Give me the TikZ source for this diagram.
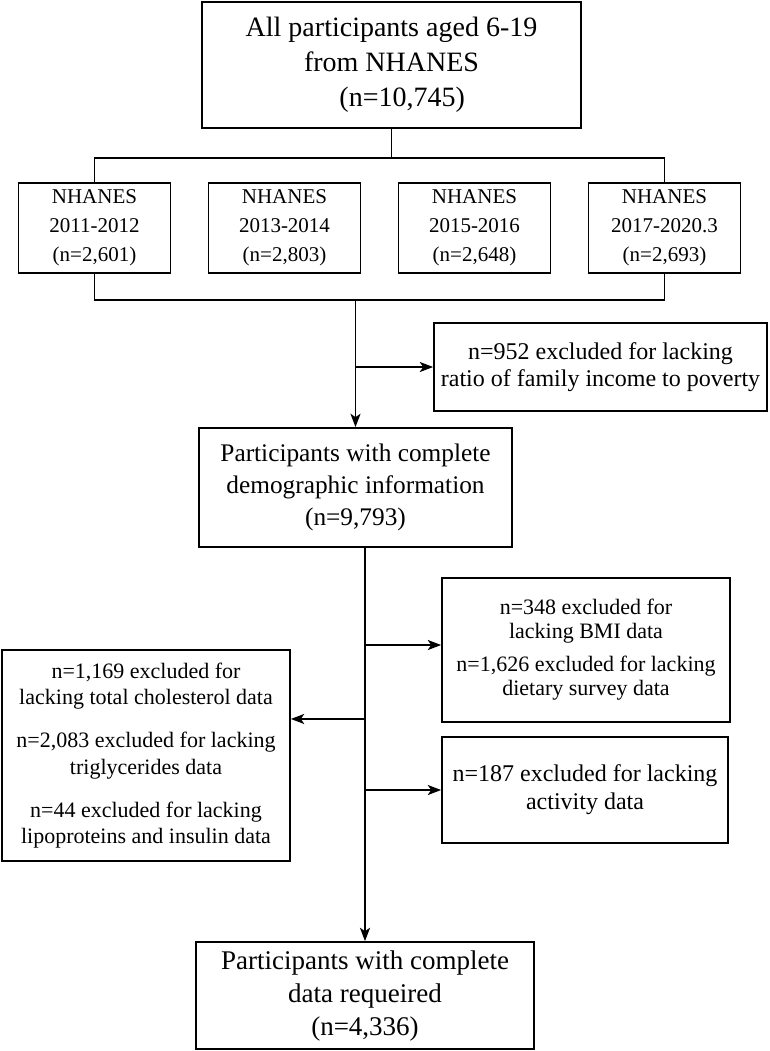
\documentclass[tikz,border=0pt]{standalone}
\usepackage{fontspec}
\setmainfont{Liberation Serif}
\usetikzlibrary{arrows.meta}

\begin{document}
\begin{tikzpicture}[x=0.75pt,y=-0.75pt,
              line width=1.3pt,
              box/.style={draw, rectangle, inner sep=0pt, align=center},
              boxsize/.style 2 args={minimum width=#1*0.75pt, minimum height=#2*0.75pt},
              title text/.style={font=\fontsize{21}{26.25}\selectfont},
              main text/.style={font=\fontsize{19}{24}\selectfont},
              end text/.style={font=\fontsize{20.25}{24.75}\selectfont},
              cycle text/.style={font=\fontsize{15.75}{21.75}\selectfont},
              excl text/.style={font=\fontsize{18}{20.5}\selectfont},
              small text/.style={font=\fontsize{16.5}{18}\selectfont},
              arrow/.style={-{Stealth[length=10pt,width=7.5pt,inset=2.5pt]}}
            ]
              \useasboundingbox (0,0) rectangle (770,1051);

              % source population
              \node[box, title text, boxsize={379}{126}] (all) at (391.5,65)
                {All participants aged 6-19\\from NHANES\\\hspace*{16pt}(n=10,745)};

              % survey cycles
              \node[box, cycle text, boxsize={152}{90}] (cyc1) at (94.5,228) {NHANES\\2011-2012\\(n=2,601)};
              \node[box, cycle text, boxsize={152}{90}] (cyc2) at (284.5,228) {NHANES\\2013-2014\\(n=2,803)};
              \node[box, cycle text, boxsize={152}{90}] (cyc3) at (474.5,228) {NHANES\\2015-2016\\(n=2,648)};
              \node[box, cycle text, boxsize={152}{90}] (cyc4) at (664.5,228) {NHANES\\2017-2020.3\\(n=2,693)};

              \node[box, excl text, boxsize={333}{88}] (excl1) at (600.5,367)
                {n=952 excluded for lacking\\ratio of family income to poverty};
              \node[box, main text, boxsize={313}{119}] (demo) at (355.5,487.5)
                {Participants with complete\\demographic information\\(n=9,793)};

              % exclusions after demographics
              \node[box, small text, boxsize={288}{144}] (excl2) at (586,650)
                {n=348 excluded for\\lacking BMI data\\[6.75pt]n=1,626 excluded for lacking\\dietary survey data};
              \node[box, small text, font=\fontsize{16.5}{19.9}\selectfont, boxsize={288}{211}] (excl3) at (146,755.5)
                {n=1,169 excluded for\\lacking total cholesterol data\\[12.3pt]n=2,083 excluded for lacking\\triglycerides data\\[12.3pt]n=44 excluded for lacking\\lipoproteins and insulin data};
              \node[box, excl text, font=\fontsize{18}{21}\selectfont, boxsize={286}{106}] (excl4) at (585,790)
                {n=187 excluded for lacking\\activity data};

              \node[box, end text, boxsize={338}{107}] (final) at (365,995.5)
                {Participants with complete\\data requeired\\(n=4,336)};

              % connectors
              \draw (all.south) -- ++(0,29) coordinate (split);
              \draw (cyc1.north) |- (split) -| (cyc4.north);
              \draw (cyc1.south) -- ++(0,26) coordinate (merge) -| (cyc4.south);
              \draw[arrow] (merge -| demo.north) -- (demo.north);
              \draw[arrow] (demo.north |- excl1.west) -- (excl1.west);

              \coordinate (down) at (demo.south -| final.north);
              \coordinate (e2) at ([yshift=3.75pt]excl2.west);
              \coordinate (e3) at ([yshift=27.4pt]excl3.east);
              \draw[arrow] (down) -- (final.north);
              \draw[arrow] (down |- e2) -- (e2);
              \draw[arrow] (down |- e3) -- (e3);
              \draw[arrow] (down |- excl4.west) -- (excl4.west);
            \end{tikzpicture}
\end{document}
